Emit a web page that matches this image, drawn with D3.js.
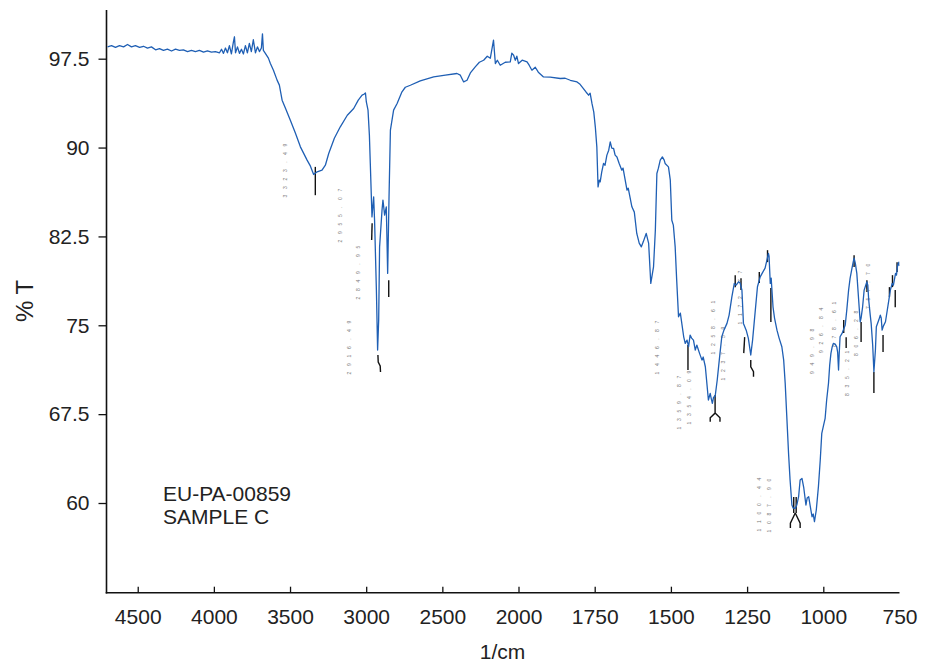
<!DOCTYPE html>
<html lang="en">
<head>
<meta charset="utf-8">
<title>FTIR spectrum: EU-PA-00859 sample C</title>
<script src="https://d3js.org/d3.v7.min.js"></script>
<style>
    body { margin: 0; background: white; }
    svg { font-family: "Liberation Sans", Arial, sans-serif; }
    .spectrum { fill: none; stroke: #1f5fb4; stroke-width: 1.3; stroke-linejoin: round; }
    .axis-line { stroke: #111; stroke-width: 1.6; }
    .tick-label { font-size: 21px; fill: #222; }
    .peak-mark { fill: none; stroke: #111; stroke-width: 1.4; }
    .peak-label { font-size: 5px; fill: #777; }
    .title { font-size: 21px; fill: #222; }
</style>
</head>
<body>
<script>
    // spectrum (1/cm, %T)
    var wavenumber = [4698, 4672, 4646, 4620, 4593, 4567, 4541, 4515, 4488, 4462, 4436, 4410, 4383, 4357, 4331, 4305,
        4278, 4252, 4226, 4200, 4173, 4147, 4121, 4095, 4068, 4042, 4016, 3990, 3963, 3950, 3937, 3924, 3911, 3898,
        3885, 3872, 3865, 3858, 3845, 3832, 3819, 3806, 3793, 3780, 3767, 3754, 3741, 3727, 3714, 3701, 3688, 3681,
        3675, 3662, 3642, 3629, 3609, 3585, 3570, 3552, 3530, 3498, 3465, 3432, 3388, 3366, 3345, 3322, 3290, 3268,
        3246, 3209, 3170, 3124, 3082, 3052, 3027, 3015, 3005, 2999, 2988, 2979, 2973, 2962, 2951, 2945, 2933, 2925,
        2918, 2912, 2896, 2890, 2879, 2868, 2859, 2850, 2841, 2820, 2797, 2765, 2743, 2710, 2645, 2557, 2480, 2404,
        2382, 2360, 2338, 2316, 2284, 2257, 2229, 2205, 2185, 2164, 2152, 2139, 2120, 2087, 2054, 2044, 2032, 2021,
        2011, 2000, 1988, 1972, 1965, 1956, 1945, 1935, 1918, 1896, 1863, 1847, 1830, 1808, 1798, 1787, 1778, 1770,
        1765, 1759, 1753, 1748, 1743, 1739, 1735, 1732, 1727, 1721, 1716, 1710, 1704, 1699, 1694, 1688, 1683, 1677,
        1670, 1661, 1657, 1644, 1640, 1628, 1620, 1612, 1604, 1597, 1591, 1581, 1573, 1566, 1557, 1551, 1546, 1541,
        1535, 1528, 1522, 1519, 1508, 1502, 1497, 1492, 1486, 1481, 1475, 1469, 1458, 1453, 1447, 1442, 1437, 1432,
        1426, 1420, 1415, 1406, 1398, 1394, 1387, 1383, 1377, 1371, 1368, 1364, 1360, 1355, 1348, 1339, 1333, 1326,
        1316, 1309, 1300, 1292, 1286, 1278, 1273, 1267, 1262, 1253, 1246, 1238, 1232, 1227, 1216, 1207, 1198, 1191,
        1185, 1180, 1178, 1174, 1171, 1165, 1160, 1152, 1145, 1136, 1130, 1125, 1120, 1114, 1109, 1103, 1099, 1092,
        1087, 1081, 1076, 1070, 1064, 1057, 1053, 1048, 1043, 1037, 1033, 1029, 1023, 1016, 1010, 1005, 999, 994,
        989, 983, 979, 975, 971, 967, 961, 956, 953, 950, 948, 945, 938, 928, 923, 917, 912, 906, 902, 899, 895, 890,
        884, 879, 876, 871, 866, 857, 854, 851, 846, 843, 838, 834, 829, 826, 818, 813, 810, 807, 803, 796, 785, 780,
        774, 770, 763, 760, 756, 752, 751];
    var transmittance = [98.5, 98.6, 98.45, 98.6, 98.5, 98.7, 98.5, 98.6, 98.45, 98.55, 98.4, 98.5, 98.25, 98.35, 98.2,
        98.3, 98.15, 98.3, 98.2, 98.25, 98.1, 98.2, 98.1, 98.2, 98.05, 98.15, 98.05, 98.1, 98.0, 98.3, 97.95, 98.4,
        98.0, 98.6, 97.9, 98.9, 99.35, 98.0, 98.5, 97.95, 98.3, 97.9, 98.6, 98.0, 98.8, 98.1, 99.1, 98.0, 98.5, 98.1,
        98.4, 99.6, 98.2, 97.95, 97.55, 97.09, 96.53, 95.69, 95.27, 94.0, 93.32, 92.31, 91.22, 90.06, 88.94, 88.43,
        87.73, 87.95, 88.09, 88.51, 89.5, 90.79, 91.75, 92.73, 93.3, 94.0, 94.42, 94.5, 94.61, 93.85, 93.16, 91.05,
        88.66, 84.15, 85.84, 83.87, 77.97, 72.91, 75.44, 81.62, 84.72, 85.57, 84.3, 85.0, 79.38, 85.84, 91.47, 93.16,
        93.72, 94.7, 95.09, 95.26, 95.63, 95.96, 96.11, 96.25, 96.11, 95.54, 95.68, 96.3, 96.81, 97.2, 97.37, 97.71,
        97.54, 99.06, 97.09, 97.37, 96.95, 97.2, 97.23, 97.96, 97.79, 97.37, 97.71, 97.09, 97.37, 97.23, 96.95, 96.53,
        96.78, 96.36, 95.96, 95.94, 95.83, 95.85, 95.68, 95.54, 95.34, 94.98, 94.67, 94.42, 94.59, 93.72, 92.99, 91.75,
        90.06, 86.68, 87.25, 87.1, 87.92, 88.66, 88.51, 89.36, 89.78, 90.48, 89.95, 89.92, 89.36, 89.21, 88.68, 88.09,
        88.26, 86.4, 86.57, 85.0, 84.55, 82.75, 81.93, 81.62, 82.02, 82.75, 81.91, 78.53, 79.93, 83.03, 87.81, 88.26,
        88.94, 89.21, 88.94, 88.66, 88.37, 87.25, 83.87, 83.45, 81.62, 78.81, 75.72, 76.03, 74.03, 73.47, 73.75, 73.19,
        74.17, 73.92, 73.75, 72.91, 73.33, 72.63, 72.06, 72.32, 71.5, 70.38, 68.69, 69.25, 68.86, 68.41, 68.94, 68.97,
        70.38, 72.63, 74.03, 74.59, 75.16, 75.86, 77.4, 78.53, 78.39, 78.67, 78.56, 77.97, 75.16, 74.59, 73.92, 72.49,
        73.75, 75.16, 78.25, 79.09, 79.51, 79.82, 80.5, 81.06, 80.84, 78.53, 78.98, 76.56, 75.61, 74.59, 73.92, 73.19,
        72.06, 70.1, 67.42, 64.19, 61.94, 59.83, 59.58, 59.55, 59.83, 60.53, 61.94, 62.08, 61.27, 59.83, 60.42, 60.53,
        59.75, 58.84, 59.07, 58.42, 59.41, 61.38, 63.63, 65.88, 66.58, 67.15, 68.69, 70.1, 71.64, 72.63, 73.16, 73.47,
        73.41, 73.19, 72.74, 71.22, 72.49, 74.03, 74.34, 75.02, 76.28, 77.97, 78.98, 79.8, 80.33, 80.67, 80.25, 79.38,
        77.13, 75.3, 75.61, 76.56, 77.97, 78.67, 78.39, 77.13, 75.86, 75.16, 73.33, 71.08, 72.91, 74.87, 75.44, 75.86,
        75.61, 74.59, 74.93, 75.3, 77.13, 77.97, 78.53, 78.39, 79.38, 79.23, 80.08, 80.33, 80.0];

    // peak-pick labels: text, column position (1/cm) and top (%T)
    var peakText = ["3323.49", "2955.07", "2849.95", "2916.49", "1446.87", "1359.87", "1354.09", "1258.61",
        "1237.59", "1172.77", "1100.44", "1087.90", "949.98", "926.84", "878.61", "835.21", "806.28", "757.70"];
    var peakTextWn = [3528, 3169, 3049, 3108, 1544, 1473, 1439, 1360, 1329, 1272, 1209, 1176, 1037, 1007, 963, 922, 890, 852];
    var peakTextTop = [90.37, 86.57, 81.77, 75.44, 75.44, 70.8, 71.22, 77.13, 74.93, 79.66, 62.19, 62.11, 74.76, 76.53,
        77.04, 72.91, 76.28, 80.25];

    // peak markers: little black leader lines, as [1/cm, %T] points
    var peakMarks = [
        [[3334, 88.37], [3334, 85.98]],
        [[2961, 83.62], [2964, 82.19]],
        [[2852, 78.81], [2852, 77.38]],
        [[2923, 72.49], [2921, 71.9], [2908, 71.56], [2906, 71.05]],
        [[1444, 73.33], [1444, 71.22]],
        [[1355, 69.11], [1355, 67.59], [1371, 67.2], [1371, 66.86]],
        [[1355, 67.59], [1339, 67.2], [1339, 66.86]],
        [[1289, 79.23], [1289, 78.22]],
        [[1270, 78.98], [1270, 77.97]],
        [[1258, 74.0], [1261, 72.65]],
        [[1238, 72.06], [1238, 71.5], [1229, 71.08], [1229, 70.66]],
        [[1210, 79.49], [1210, 78.56]],
        [[1183, 81.34], [1183, 80.33]],
        [[1172, 78.14], [1172, 75.27]],
        [[1097, 60.51], [1097, 59.16]],
        [[1089, 60.51], [1089, 59.16]],
        [[1092, 59.16], [1108, 58.3], [1108, 57.89]],
        [[1092, 59.16], [1076, 58.3], [1076, 57.89]],
        [[933, 75.44], [933, 74.34]],
        [[925, 74.0], [925, 73.08]],
        [[899, 80.92], [899, 79.91]],
        [[876, 75.27], [876, 73.58]],
        [[857, 78.81], [857, 77.8]],
        [[834, 71.05], [834, 69.28]],
        [[804, 74.17], [804, 72.74]],
        [[783, 78.22], [783, 77.38]],
        [[773, 79.23], [773, 78.22]],
        [[764, 77.97], [764, 76.53]],
        [[758, 80.33], [758, 79.49]]
    ];

    var xTicks = [4500, 4000, 3500, 3000, 2500, 2000, 1750, 1500, 1250, 1000, 750];
    var yTicks = [60, 67.5, 75, 82.5, 90, 97.5];
    var sampleLines = ["EU-PA-00859", "SAMPLE C"];

    var w = 925, h = 664;
    var plot = { left: 106.5, right: 899.5, top: 10, bottom: 592.7 };

    var svg = d3.select("body").append("svg")
        .attr("width", w)
        .attr("height", h);

    // axis breaks at 2000: 500 per step above, 250 per step below
    var x = d3.scaleLinear().domain([4705, 2000, 750]).range([plot.left, 518.5, plot.right]);
    var y = d3.scaleLinear().domain([52.43, 101.61]).range([plot.bottom, plot.top]);

    svg.append("clipPath").attr("id", "plot-area")
        .append("rect")
        .attr("x", plot.left).attr("y", plot.top)
        .attr("width", plot.right - plot.left).attr("height", plot.bottom - plot.top);

    // y axis
    var yAxis = svg.append("g")
        .attr("transform", `translate(${plot.left},0)`)
        .call(d3.axisLeft(y).tickValues(yTicks).tickSize(8).tickPadding(9)
            .tickFormat(d => d % 1 ? d.toFixed(1) : String(d)));
    yAxis.select(".domain").remove();
    yAxis.attr("font-size", null).attr("font-family", null);
    yAxis.selectAll("line").attr("stroke", "#111").attr("stroke-width", 1.3);
    yAxis.selectAll("text").attr("class", "tick-label").attr("fill", null);

    // x axis, ticks inside
    var xAxis = svg.append("g")
        .attr("transform", `translate(0,${plot.bottom})`)
        .call(d3.axisBottom(x).tickValues(xTicks).tickSize(-6).tickPadding(16.7)
            .tickFormat(d => String(d)));
    xAxis.select(".domain").remove();
    xAxis.attr("font-size", null).attr("font-family", null);
    xAxis.selectAll("line").attr("stroke", "#111").attr("stroke-width", 1.3)
        .filter(d => d == 750).remove();
    xAxis.selectAll("text").attr("class", "tick-label").attr("fill", null);

    svg.append("line").attr("class", "axis-line")
        .attr("x1", plot.left).attr("x2", plot.left).attr("y1", plot.top).attr("y2", plot.bottom + 0.8);
    svg.append("line").attr("class", "axis-line")
        .attr("x1", plot.left - 0.8).attr("x2", plot.right).attr("y1", plot.bottom).attr("y2", plot.bottom);

    svg.append("text").attr("class", "title")
        .attr("x", 502.5).attr("y", 659)
        .attr("text-anchor", "middle")
        .text("1/cm");

    svg.append("text").attr("class", "title")
        .attr("transform", "translate(32.5,301) rotate(-90)")
        .attr("text-anchor", "middle")
        .style("font-size", "24px")
        .text("% T");

    // sample id
    svg.append("g").selectAll("text")
        .data(sampleLines).enter()
        .append("text").attr("class", "title")
        .attr("x", 163)
        .attr("y", (d, i) => 500.5 + i * 23.5)
        .text(d => d);

    // peak markers
    var markLine = d3.line().x(d => x(d[0])).y(d => y(d[1]));
    svg.append("g").selectAll("path")
        .data(peakMarks).enter()
        .append("path")
        .attr("class", "peak-mark")
        .attr("d", markLine);

    // peak labels, one tiny rotated glyph per character
    var step = 8.5;
    var labels = svg.append("g");
    peakText.forEach(function (s, k) {
        var cx = x(peakTextWn[k]);
        var ty = y(peakTextTop[k]);
        s.split("").forEach(function (c, i) {
            var cy = ty + (s.length - 1 - i) * step + 2;
            labels.append("text")
                .attr("class", "peak-label")
                .attr("transform", `translate(${cx + 1.5},${cy}) rotate(-90)`)
                .attr("text-anchor", "middle")
                .text(c);
        });
    });

    // spectrum
    var spectrum = wavenumber.map((d, i) => [d, transmittance[i]]);
    svg.append("path")
        .datum(spectrum)
        .attr("class", "spectrum")
        .attr("clip-path", "url(#plot-area)")
        .attr("d", d3.line().x(d => x(d[0])).y(d => y(d[1])));
</script>
</body>
</html>
